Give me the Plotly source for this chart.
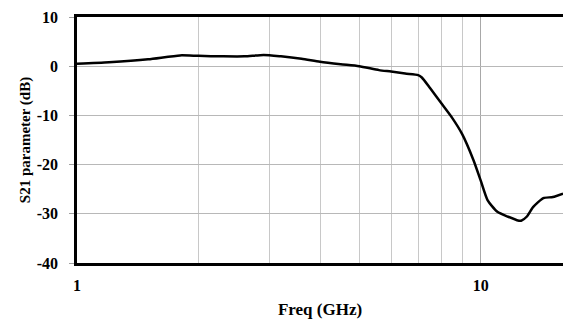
import plotly.graph_objects as go

freq_ghz = [1, 1.2, 1.5, 1.8, 2.0, 2.3, 2.6, 2.9, 3.2, 3.6, 4.0, 4.5, 5.0, 5.6, 6.0, 6.5,
            7.0, 7.15, 7.5, 8.0, 8.5, 9.0, 9.6, 10.0, 10.4, 11.0, 11.7, 12.3, 12.6, 13.0,
            13.5, 14.3, 15.1, 16.0]
s21_db = [0.5, 0.8, 1.4, 2.2, 2.1, 2.0, 2.0, 2.3, 2.0, 1.5, 0.9, 0.4, 0.0, -0.8, -1.1, -1.5,
          -1.8, -2.3, -4.5, -7.6, -10.5, -13.8, -19.1, -23.2, -27.2, -29.6, -30.6, -31.3,
          -31.4, -30.6, -28.6, -26.8, -26.6, -25.9]

x_ticks = [1, 10]
x_tick_labels = ["1", "10"]
x_minor = [2, 3, 4, 5, 6, 7, 8, 9]
y_ticks = [10, 0, -10, -20, -30, -40]
y_tick_labels = ["10", "0", "-10", "-20", "-30", "-40"]

serif = "Liberation Serif"
tick_font = dict(family=serif, size=16, color="black", weight="bold")
xtitle_font = dict(family=serif, size=17, color="black", weight="bold")
ytitle_font = dict(family=serif, size=15, color="black", weight="bold")

fig = go.Figure()
fig.add_trace(go.Scatter(x=freq_ghz, y=s21_db, mode="lines",
                         line=dict(color="black", width=2.5, shape="spline", smoothing=0.6),
                         showlegend=False))

fig.update_layout(
    width=563, height=320,
    margin=dict(l=77, r=0, t=17, b=57),
    plot_bgcolor="white", paper_bgcolor="white",
    font=tick_font,
    xaxis=dict(type="log", range=[0, 1.204], tickvals=x_ticks, ticktext=x_tick_labels,
               automargin=False, tickfont=tick_font, ticklabelstandoff=6,
               showgrid=True, gridcolor="#a8a8a8", gridwidth=1,
               minor=dict(tickvals=x_minor, showgrid=True, gridcolor="#c8c8c8", gridwidth=1),
               showline=True, linecolor="black", linewidth=3, mirror=True,
               ticks="", zeroline=False,
               title=dict(text="Freq (GHz)", font=xtitle_font, standoff=10)),
    yaxis=dict(range=[-40, 10], tickvals=y_ticks, ticktext=y_tick_labels, automargin=False,
               tickfont=tick_font, ticklabelstandoff=8,
               showgrid=True, gridcolor="#b8b8b8",
               gridwidth=1, showline=True, linecolor="black", linewidth=2.5,
               ticks="outside", ticklen=5, tickcolor="#a0a0a0", zeroline=False,
               title=dict(text="S21 parameter (dB)", font=ytitle_font, standoff=3)),
)

fig.write_html("out.html", config={"displayModeBar": False},
               post_script="document.body.style.margin='0px';document.body.style.overflow='hidden';")
